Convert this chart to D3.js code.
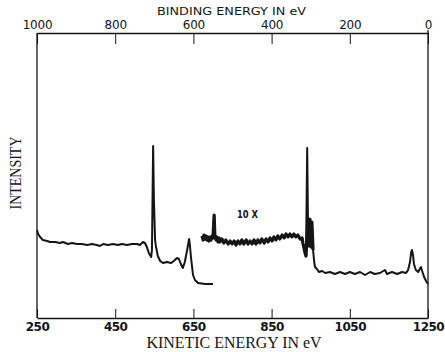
<!DOCTYPE html>
<html><head><meta charset="utf-8">
<script src="https://cdn.jsdelivr.net/npm/d3@7"></script>
<style>html,body{margin:0;padding:0;background:#fff;}svg{display:block;}</style>
</head><body>
<svg id="c" width="445" height="352"></svg>
<script>
// Kinetic energy tick labels (bottom) and binding energy tick labels (top)
const kineticTicks = [250, 450, 650, 850, 1050, 1250];
const bindingTicks = [1000, 800, 600, 400, 200, 0];

// Survey trace, part 1 (1x): kinetic energy (eV) and intensity (arb.)
const ke1 = [250,253,258,265,276,283,296,309,316,329,340,352,365,378,391,403,411,419,432,444,457,467,480,493,506,513,521,526,531,536,542,544,547,549,552,554,559,565,572,582,593,600,608,613,618,623,628,634,639,641,644,649,654,662,680,700];
const int1 = [88,84,81,78,77,76,76,75,76,74,75,74,74,73,74,73,72,74,73,74,73,74,73,74,74,73,76,75,71,65,61,68,172,118,78,72,62,57,55,56,55,57,60,59,54,50,56,68,79,73,60,43,38,35,34,34];

// Survey trace, part 2 (10x scale up to ~955 eV, then 1x)
const ke2 = [672,675,677,680,682,685,687,690,692,695,698,700,703,705,708,710,713,716,718,723,728,733,739,744,749,754,759,764,769,774,779,785,790,795,800,805,810,815,820,825,831,836,841,846,851,856,861,866,871,877,882,887,892,897,902,907,912,917,923,928,930,935,938,941,943,946,948,951,953,956,959,961,966,971,979,987,999,1012,1025,1038,1050,1063,1076,1089,1102,1114,1127,1140,1145,1158,1171,1184,1194,1199,1204,1207,1209,1212,1214,1219,1225,1230,1232,1235,1240,1245,1250];
const int2 = [82,78,83,79,82,78,81,77,81,78,82,80,103,81,78,81,76,80,76,79,75,78,74,77,74,77,73,77,74,78,74,78,74,77,74,78,74,78,75,79,75,79,76,80,77,81,78,82,79,83,80,84,81,84,81,84,81,83,79,80,75,66,62,170,98,72,99,71,96,68,56,51,49,46,47,45,46,44,46,44,46,44,46,43,46,44,45,48,44,46,44,46,45,48,56,66,68,62,54,48,46,50,51,47,41,37,34];
const tenXEnd = 956; // last kinetic energy of the 10x-magnified stretch

const svg = d3.select("#c");
svg.append("rect").attr("width",445).attr("height",352).attr("fill","#fff");

const L = 37, R = 428, T = 33, B = 318;
const x = d3.scaleLinear().domain([250,1250]).range([L,R]);
const xb = d3.scaleLinear().domain([1000,0]).range([L,R]);
const y = d3.scaleLinear().domain([0,285]).range([B,T]);

const ink = "#151515";

// Bottom axis
const gB = svg.append("g").attr("transform",`translate(0,${B})`)
  .call(d3.axisBottom(x).tickValues(kineticTicks).tickSizeInner(-9).tickSizeOuter(0).tickPadding(4).tickFormat(d3.format("d")));
// Top axis
const gT = svg.append("g").attr("transform",`translate(0,${T})`)
  .call(d3.axisTop(xb).tickValues(bindingTicks).tickSizeInner(-11).tickSizeOuter(0).tickPadding(4.5).tickFormat(d3.format("d")));

[gB,gT].forEach(g=>{
  g.select(".domain").attr("stroke",ink).attr("stroke-width",1.3);
  g.selectAll(".tick line").attr("stroke",ink).attr("stroke-width",1);
  g.selectAll(".tick text").attr("fill",ink).attr("font-family","DejaVu Sans");
});
gB.selectAll(".tick text").attr("font-size",12).attr("font-weight","bold").attr("letter-spacing","-0.5");
gT.selectAll(".tick text").attr("font-size",12).attr("letter-spacing","-0.2");

// Frame verticals
svg.append("line").attr("x1",L).attr("x2",L).attr("y1",T).attr("y2",B).attr("stroke",ink).attr("stroke-width",1.3);
svg.append("line").attr("x1",R).attr("x2",R).attr("y1",T-3).attr("y2",B).attr("stroke",ink).attr("stroke-width",1.3);

// Traces
const line = d3.line().x(d=>x(d[0])).y(d=>y(d[1]));
const d1 = ke1.map((k,i)=>[k,int1[i]]);
const d2 = ke2.map((k,i)=>[k,int2[i]]);
svg.append("path").datum(d1).attr("d",line).attr("fill","none").attr("stroke",ink).attr("stroke-width",2).attr("stroke-linejoin","round");
svg.append("path").datum(d2).attr("d",line).attr("fill","none").attr("stroke",ink).attr("stroke-width",2).attr("stroke-linejoin","round");
// heavier, noisier look of the 10x stretch
svg.append("path").datum(d2.filter(d=>d[0]<=tenXEnd && d[1]<110)).attr("d",line).attr("fill","none").attr("stroke",ink).attr("stroke-width",3.2).attr("stroke-linejoin","round");

// Texts
svg.append("text").attr("x",157).attr("y",14.5).attr("font-family","DejaVu Sans").attr("font-size",10.5)
  .attr("textLength",149).attr("lengthAdjust","spacingAndGlyphs").attr("fill",ink).text("BINDING ENERGY IN eV");
svg.append("text").attr("x",234).attr("y",348).attr("text-anchor","middle").attr("font-family","Liberation Serif").attr("font-size",16)
  .attr("textLength",175).attr("lengthAdjust","spacingAndGlyphs").attr("fill",ink).text("KINETIC ENERGY IN eV");
svg.append("text").attr("transform","translate(21,173) rotate(-90)").attr("text-anchor","middle").attr("font-family","Liberation Serif").attr("font-size",16)
  .attr("textLength",73).attr("lengthAdjust","spacingAndGlyphs").attr("fill",ink).text("INTENSITY");
svg.append("text").attr("x",237).attr("y",218).attr("font-family","DejaVu Sans").attr("font-size",10).attr("font-weight","bold")
  .attr("textLength",21).attr("lengthAdjust","spacingAndGlyphs").attr("fill",ink).text("10 X");
</script>
</body></html>
